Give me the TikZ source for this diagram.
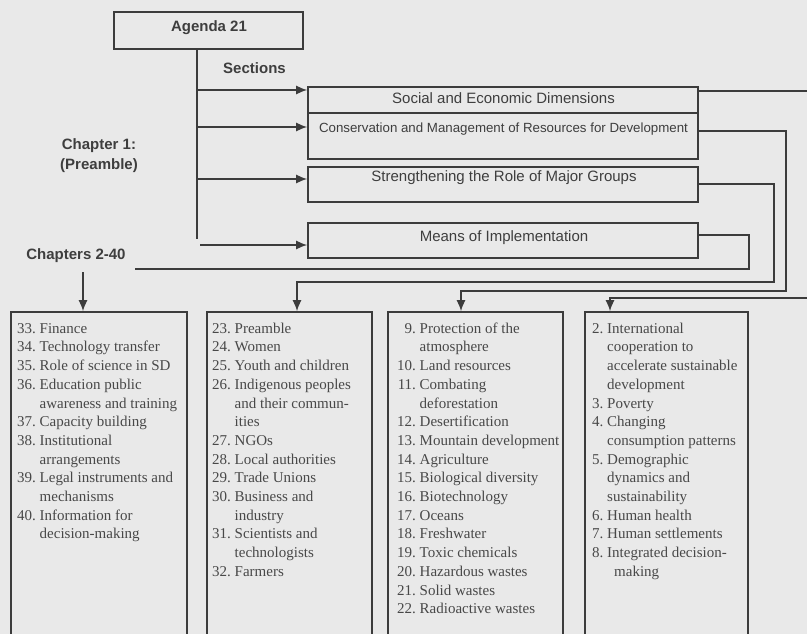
\documentclass[tikz,border=0pt]{standalone}
\usepackage{fontspec}
\setmainfont{Liberation Serif}
\setsansfont{Liberation Sans}
\usetikzlibrary{arrows.meta}
\definecolor{bgc}{RGB}{233,233,233}
\definecolor{lnc}{RGB}{60,60,60}
\definecolor{txs}{RGB}{62,62,62}
\definecolor{txr}{RGB}{72,72,72}
\tikzset{
  frame/.style={draw=lnc, line width=1.6pt, inner sep=0pt},
  hdr/.style={font=\sffamily\fontsize{15}{18}\selectfont, text=txs, inner sep=0pt, text height=0.75em, text depth=0.25em},
  lbl/.style={font=\sffamily\bfseries\fontsize{15}{20}\selectfont, text=txs, inner sep=0pt, align=center},
  conn/.style={draw=lnc, line width=1.5pt},
  arr/.style={conn, -{Latex[length=11pt,width=9pt]}},
  lst/.style={font=\rmfamily\fontsize{15}{18.7}\selectfont, text=txr, inner sep=0pt, anchor=north west},
}
\newcommand{\lstab}[1]{\begin{tabular}{@{}r@{\hspace{3.75pt}}l@{}}#1\end{tabular}}
\begin{document}
\begin{tikzpicture}[x=1pt,y=-1pt]
\useasboundingbox (0,0) rectangle (807,634);
\fill[bgc] (0,0) rectangle (807,634);
\clip (0,0) rectangle (807,634);

% top boxes
\node[frame, minimum width=189pt, minimum height=37pt] (agenda) at (208.5,30.5) {};
\node[lbl] (agendaT) at (209,27.5) {Agenda 21};
\node[lbl] (sections) at (254.5,68) {Sections};
\node[lbl] (ch1) at (99,156) {Chapter 1:\\(Preamble)};
\node[lbl] (ch240) at (76,255.3) {Chapters 2-40};

\node[frame, minimum width=390pt, minimum height=26pt] (SE) at (503,100) {};
\node[hdr] (SEt) at (503.5,101.5) {Social and Economic Dimensions};
\node[frame, minimum width=390pt, minimum height=46pt] (CM) at (503,136) {};
\node[hdr, font=\sffamily\fontsize{13.3}{16}\selectfont] (CMt) at (503.5,130) {Conservation and Management of Resources for Development};
\node[frame, minimum width=390pt, minimum height=35pt] (ST) at (503,184.5) {};
\node[hdr] (STt) at (504,179.5) {Strengthening the Role of Major Groups};
\node[frame, minimum width=390pt, minimum height=35pt] (MI) at (503,240.5) {};
\node[hdr] (MIt) at (504,238.5) {Means of Implementation};

% bottom boxes
\node[frame, minimum width=176pt, minimum height=388pt] (A) at (99,506) {};
\node[frame, minimum width=165pt, minimum height=388pt] (B) at (289.5,506) {};
\node[frame, minimum width=175pt, minimum height=388pt] (C) at (475.5,506) {};
\node[frame, minimum width=163pt, minimum height=388pt] (D) at (666.5,506) {};

\node[lst] (Al) at (17,320) {\lstab{
33. & Finance\\
34. & Technology transfer\\
35. & Role of science in SD\\
36. & Education public\\
    & awareness and training\\
37. & Capacity building\\
38. & Institutional\\
    & arrangements\\
39. & Legal instruments and\\
    & mechanisms\\
40. & Information for\\
    & decision-making}};
\node[lst] (Bl) at (212,320) {\lstab{
23. & Preamble\\
24. & Women\\
25. & Youth and children\\
26. & Indigenous peoples\\
    & and their commun-\\
    & ities\\
27. & NGOs\\
28. & Local authorities\\
29. & Trade Unions\\
30. & Business and\\
    & industry\\
31. & Scientists and\\
    & technologists\\
32. & Farmers}};
\node[lst] (Cl) at (397,320) {\lstab{
9. & Protection of the\\
   & atmosphere\\
10. & Land resources\\
11. & Combating\\
    & deforestation\\
12. & Desertification\\
13. & Mountain development\\
14. & Agriculture\\
15. & Biological diversity\\
16. & Biotechnology\\
17. & Oceans\\
18. & Freshwater\\
19. & Toxic chemicals\\
20. & Hazardous wastes\\
21. & Solid wastes\\
22. & Radioactive wastes}};
\node[lst] (Dl) at (592,320) {\lstab{
2. & International\\
   & cooperation to\\
   & accelerate sustainable\\
   & development\\
3. & Poverty\\
4. & Changing\\
   & consumption patterns\\
5. & Demographic\\
   & dynamics and\\
   & sustainability\\
6. & Human health\\
7. & Human settlements\\
8. & Integrated decision-\\
   & \hspace{7pt}making}};

% trunk and section arrows
\coordinate (tTop) at (agenda.south -| 197,0);
\coordinate (tBot) at (197,239);
\coordinate (b1) at (197,90);
\coordinate (b2) at (197,127);
\coordinate (b3) at (197,179);
\coordinate (b4) at (200,245);
\draw[conn] (tTop) -- (tBot);
\draw[arr] (b1) -- (b1 -| SE.west);
\draw[arr] (b2) -- (b2 -| CM.west);
\draw[arr] (b3) -- (b3 -| ST.west);
\draw[arr] (b4) -- (b4 -| MI.west);

% right-hand connectors
\draw[arr] (SE.east |- 0,91) -| (815,298) -| (D.north -| 610,0);
\draw[arr] (CM.east |- 0,131) -| (786,291) -| (C.north -| 461,0);
\draw[arr] (ST.east |- 0,184) -| (774,282) -| (B.north -| 297,0);
\coordinate (miEnd) at (135,269);
\draw[conn] (MI.east |- 0,235) -| (749,269) -- (miEnd);
\coordinate (chStart) at (83,272);
\draw[arr] (chStart) -- (A.north -| chStart);
\end{tikzpicture}
\end{document}
